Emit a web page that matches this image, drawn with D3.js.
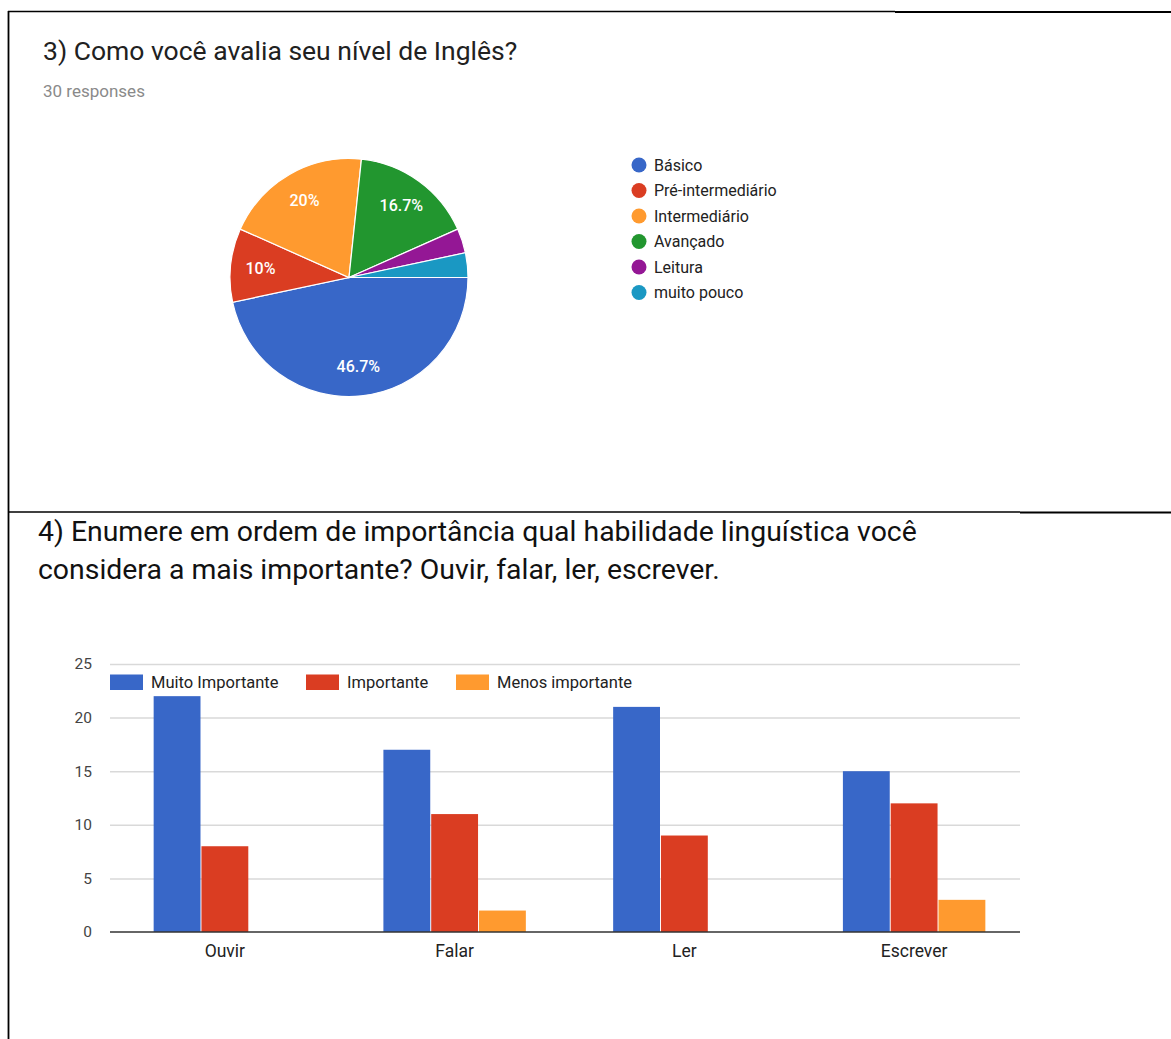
<!DOCTYPE html>
<html lang="pt">
<head>
	<meta charset="UTF-8">
	<title>Questionário: nível de Inglês e habilidades</title>
	<script src="https://d3js.org/d3.v7.min.js"></script>
	<style>
		body {
			margin: 0;
			background: #fff;
			font-family: Roboto, "Noto Sans", sans-serif;
		}
		.grid line {
			stroke: #d9d9d9;
			stroke-width: 1.5;
		}
		.grid path {
			display: none;
		}
	</style>
</head>
<body>

<div id="chart"></div>

<script>

// Pie data (question 3)
const levels = ["Básico", "Pré-intermediário", "Intermediário", "Avançado", "Leitura", "muito pouco"];
const levelCounts = [14, 3, 6, 5, 1, 1];
const levelColors = ["#3867c8", "#da3d22", "#ff9a2f", "#22962f", "#941795", "#1a98c3"];

// Bar data (question 4)
const skills = ["Ouvir", "Falar", "Ler", "Escrever"];
const importance = ["Muito Importante", "Importante", "Menos importante"];
const muitoImportante = [22, 17, 21, 15];
const importante = [8, 11, 9, 12];
const menosImportante = [0, 2, 0, 3];
const barColors = ["#3867c8", "#da3d22", "#ff9a2f"];
const yTicks = [0, 5, 10, 15, 20, 25];

const W = 1171, H = 1039;

const svg = d3.select("#chart")
	.append("svg")
	.attr("width", W)
	.attr("height", H);

// Frame lines of the scanned document
svg.append("line").attr("x1", 8).attr("x2", 895).attr("y1", 11.5).attr("y2", 11.5)
	.attr("stroke", "#000").attr("stroke-width", 1.5);
svg.append("line").attr("x1", 895).attr("x2", W).attr("y1", 12).attr("y2", 12)
	.attr("stroke", "#000").attr("stroke-width", 2.2);
svg.append("line").attr("x1", 8.5).attr("x2", 8.5).attr("y1", 11).attr("y2", H)
	.attr("stroke", "#000").attr("stroke-width", 1.8);
svg.append("line").attr("x1", 8).attr("x2", 1020).attr("y1", 512).attr("y2", 512)
	.attr("stroke", "#000").attr("stroke-width", 1.5);
svg.append("line").attr("x1", 1020).attr("x2", W).attr("y1", 512.5).attr("y2", 512.5)
	.attr("stroke", "#000").attr("stroke-width", 2.2);

// ---------- Pie chart ----------
svg.append("text")
	.attr("x", 43)
	.attr("y", 60)
	.style("font-size", "26.5px")
	.style("fill", "#212121")
	.text("3) Como você avalia seu nível de Inglês?");

svg.append("text")
	.attr("x", 43)
	.attr("y", 97)
	.style("font-size", "17px")
	.style("fill", "#8a8a8a")
	.text("30 responses");

const levelData = levels.map((d, i) => ({name: d, value: levelCounts[i], color: levelColors[i]}));
const total = d3.sum(levelCounts);

const radius = 119;
const pieG = svg.append("g").attr("transform", "translate(349,277.5)");

const pie = d3.pie()
	.sort(null)
	.value(d => d.value)
	.startAngle(Math.PI / 2)
	.endAngle(Math.PI / 2 + 2 * Math.PI);

const arc = d3.arc().innerRadius(0).outerRadius(radius);
const labelArc = d3.arc().innerRadius(89).outerRadius(89);

const slices = pie(levelData);

pieG.selectAll("path")
	.data(slices)
	.join("path")
	.attr("d", arc)
	.attr("fill", d => d.data.color)
	.attr("stroke", "#fff")
	.attr("stroke-width", 1.2);

pieG.selectAll("text")
	.data(slices.filter(d => d.data.value / total > 0.05))
	.join("text")
	.attr("transform", d => `translate(${labelArc.centroid(d)})`)
	.attr("text-anchor", "middle")
	.attr("dy", "0.35em")
	.style("font-size", "16px")
	.style("font-weight", "500")
	.style("fill", "#fff")
	.text(d => d3.format(".1~f")(d.data.value / total * 100) + "%");

// legend
const pieLegend = svg.append("g").attr("transform", "translate(639,165)");

pieLegend.selectAll("circle")
	.data(levelData)
	.join("circle")
	.attr("cx", 0)
	.attr("cy", (d, i) => i * 25.5)
	.attr("r", 7.5)
	.attr("fill", d => d.color);

pieLegend.selectAll("text")
	.data(levelData)
	.join("text")
	.attr("x", 15)
	.attr("y", (d, i) => i * 25.5)
	.attr("dy", "0.35em")
	.style("font-size", "16px")
	.style("fill", "#222")
	.text(d => d.name);

// ---------- Bar chart ----------
const title2 = svg.append("text")
	.attr("x", 38)
	.style("font-size", "28.4px")
	.style("fill", "#111");
title2.append("tspan").attr("x", 38).attr("y", 541)
	.text("4) Enumere em ordem de importância qual habilidade linguística você");
title2.append("tspan").attr("x", 38).attr("y", 579)
	.text("considera a mais importante? Ouvir, falar, ler, escrever.");

const plot = {left: 110, right: 1020, top: 664, bottom: 932};

const y = d3.scaleLinear()
	.domain([0, 25])
	.range([plot.bottom, plot.top]);

const x0 = d3.scaleBand()
	.domain(skills)
	.range([plot.left, plot.left + 919])
	.paddingInner(0.38)
	.paddingOuter(0.19);

const x1 = d3.scaleBand()
	.domain(importance)
	.range([0, x0.bandwidth()])
	.paddingInner(0.02);

// grid
svg.append("g")
	.attr("class", "grid")
	.attr("transform", `translate(${plot.left},0)`)
	.call(d3.axisLeft(y).tickValues(yTicks.slice(1)).tickSize(-(plot.right - plot.left)).tickFormat(""));

// y labels
svg.append("g")
	.selectAll("text")
	.data(yTicks)
	.join("text")
	.attr("x", 92)
	.attr("y", d => y(d))
	.attr("dy", "0.35em")
	.attr("text-anchor", "end")
	.style("font-size", "15.5px")
	.style("fill", "#444")
	.text(d => d);

const series = [muitoImportante, importante, menosImportante];
const rows = skills.map((s, i) => ({skill: s, values: importance.map((k, j) => ({key: k, value: series[j][i], color: barColors[j]}))}));

const groups = svg.append("g")
	.selectAll("g")
	.data(rows)
	.join("g")
	.attr("transform", d => `translate(${x0(d.skill)},0)`);

groups.selectAll("rect")
	.data(d => d.values.filter(v => v.value > 0))
	.join("rect")
	.attr("x", d => x1(d.key))
	.attr("y", d => y(d.value))
	.attr("width", x1.bandwidth())
	.attr("height", d => y(0) - y(d.value))
	.attr("fill", d => d.color);

// baseline
svg.append("line")
	.attr("x1", plot.left)
	.attr("x2", plot.right)
	.attr("y1", y(0))
	.attr("y2", y(0))
	.attr("stroke", "#333")
	.attr("stroke-width", 1.5);

// category labels
svg.append("g")
	.selectAll("text")
	.data(skills)
	.join("text")
	.attr("x", d => x0(d) + x0.bandwidth() / 2)
	.attr("y", 957)
	.attr("text-anchor", "middle")
	.style("font-size", "17.5px")
	.style("fill", "#222")
	.text(d => d);

// legend
const legendX = [110, 306, 456];
const barLegend = svg.append("g");

barLegend.selectAll("rect")
	.data(importance)
	.join("rect")
	.attr("x", (d, i) => legendX[i])
	.attr("y", 674.5)
	.attr("width", 33)
	.attr("height", 15.5)
	.attr("fill", (d, i) => barColors[i]);

barLegend.selectAll("text")
	.data(importance)
	.join("text")
	.attr("x", (d, i) => legendX[i] + 41)
	.attr("y", 682.5)
	.attr("dy", "0.35em")
	.style("font-size", "16.5px")
	.style("fill", "#222")
	.text(d => d);

</script>
</body>
</html>
